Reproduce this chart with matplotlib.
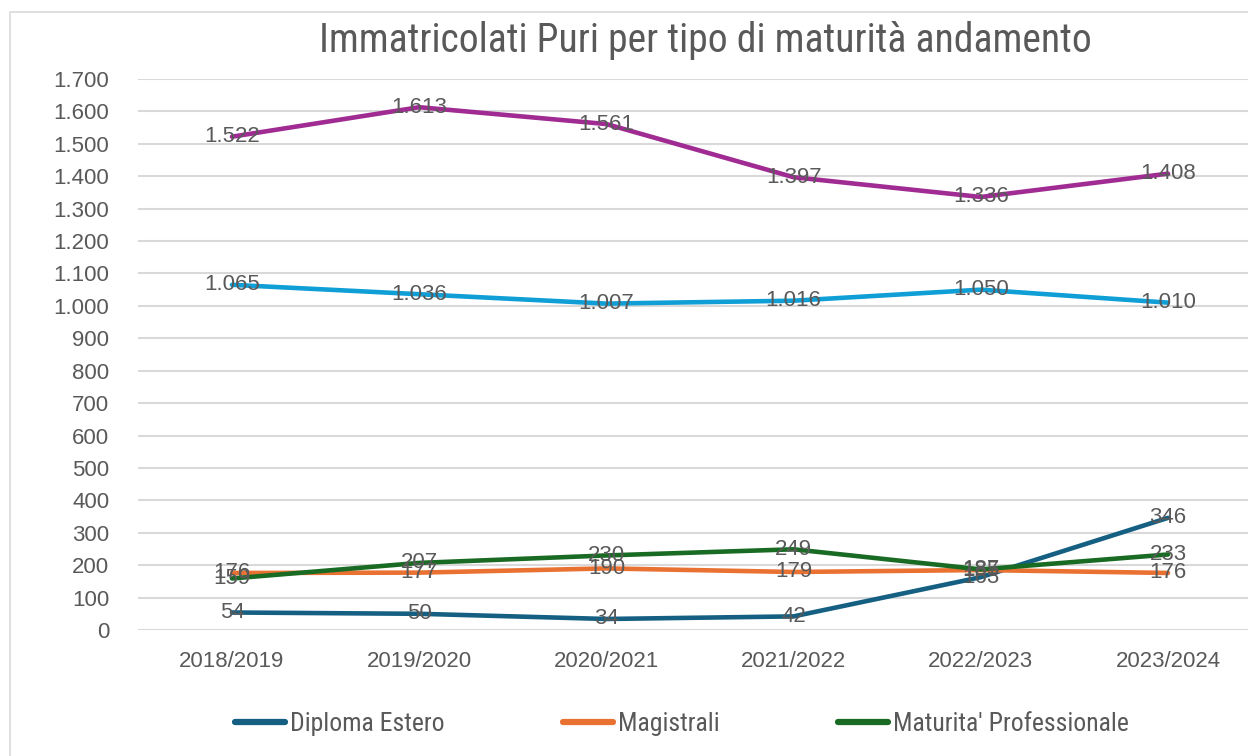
import matplotlib
matplotlib.use("Agg")
import matplotlib.pyplot as plt
from matplotlib import font_manager
from matplotlib.patches import Rectangle
from matplotlib.lines import Line2D
from matplotlib.ticker import FuncFormatter, MultipleLocator

categories = ["2018/2019", "2019/2020", "2020/2021", "2021/2022", "2022/2023", "2023/2024"]
diploma_estero = [54, 50, 34, 42, 163, 346]
magistrali = [176, 177, 190, 179, 185, 176]
maturita_prof = [159, 207, 230, 249, 187, 233]
maturita_tecnica = [1065, 1036, 1007, 1016, 1050, 1010]
licei = [1522, 1613, 1561, 1397, 1336, 1408]

series_names = ["Diploma Estero", "Magistrali", "Maturita' Professionale",
                "Maturita' Tecnica", "Licei"]
series_values = [diploma_estero, magistrali, maturita_prof, maturita_tecnica, licei]
colors = ["#156082", "#E97132", "#196B24", "#0F9ED5", "#A02B93"]
title = "Immatricolati Puri per tipo di maturità andamento"

names = {f.name for f in font_manager.fontManager.ttflist}
narrow = "Liberation Sans Narrow" if "Liberation Sans Narrow" in names else "Roboto Condensed" if "Roboto Condensed" in names else "Liberation Sans"
plt.rcParams["font.family"] = ["Liberation Sans", "DejaVu Sans"]

W, H = 1248, 756
fig = plt.figure(figsize=(W / 100, H / 100), dpi=100)
fig.patch.set_facecolor("white")

# outer chart frame
fig.patches.append(Rectangle((10 / W, -0.1), 2.0, (H - 12) / H + 0.1,
                             transform=fig.transFigure, fill=False,
                             edgecolor="#D9D9D9", linewidth=1.2))

left = 138.4 / W
right = 1261.6 / W
bottom = (H - 630) / H
top = (H - 79) / H
ax = fig.add_axes([left, bottom, right - left, top - bottom])
ax.set_facecolor("none")
ax.set_xlim(-0.5, len(categories) - 0.5)
ax.set_ylim(0, 1700)
ax.yaxis.set_major_locator(MultipleLocator(100))
ax.yaxis.set_major_formatter(FuncFormatter(lambda v, p: f"{int(v):,}".replace(",", ".")))
ax.grid(axis="y", color="#D9D9D9", linewidth=1.5)
ax.set_axisbelow(True)
for s in ax.spines.values():
    s.set_visible(False)
ax.set_xticks(range(len(categories)))
ax.set_xticklabels(categories)
ax.tick_params(axis="both", length=0, colors="#595959", labelsize=16)
ax.tick_params(axis="y", pad=21)
ax.tick_params(axis="x", pad=15)

xs = list(range(len(categories)))
for name, vals, c in zip(series_names, series_values, colors):
    ax.plot(xs, vals, color=c, linewidth=3.3, solid_capstyle="round",
            solid_joinstyle="round", clip_on=False)
for name, vals, c in zip(series_names, series_values, colors):
    for x, v in zip(xs, vals):
        ax.text(x, v, f"{v:,}".replace(",", "."), ha="center", va="center",
                fontsize=16, color="#595959")

fig.text(705 / W, 1 - 40 / H, title, ha="center", va="center",
         fontsize=28.5, color="#595959", family=[narrow, "DejaVu Sans"])

handles = [Line2D([0], [0], color=c, linewidth=4.5, solid_capstyle="round")
           for c in colors[:3]]
leg = fig.legend(handles, series_names[:3], loc="center left",
                 bbox_to_anchor=(235 / W, 1 - 724 / H), ncol=3, frameon=False,
                 handlelength=1.95, handletextpad=0.2, columnspacing=4.6,
                 prop={"family": narrow, "size": 18.5}, borderaxespad=0,
                 borderpad=0)
for t in leg.get_texts():
    t.set_color("#595959")

fig.savefig("out.png", dpi=100, facecolor="white")
